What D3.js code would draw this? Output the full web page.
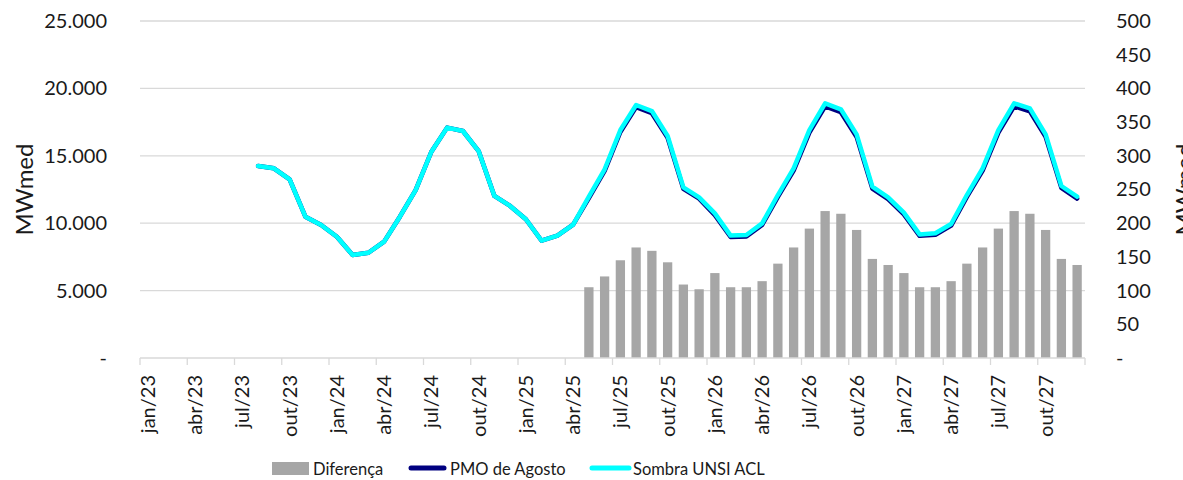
<!DOCTYPE html>
<html>
<head>
<meta charset="utf-8">
<script src="https://cdn.jsdelivr.net/npm/d3@7"></script>
<style>
  html, body { margin: 0; padding: 0; background: #fff; }
  svg { display: block; font-family: Lato, "Open Sans", sans-serif; }
</style>
</head>
<body>
<svg id="chart" width="1183" height="480"></svg>
<script>
const categories = [
  "jan/23","fev/23","mar/23","abr/23","mai/23","jun/23","jul/23","ago/23","set/23","out/23","nov/23","dez/23",
  "jan/24","fev/24","mar/24","abr/24","mai/24","jun/24","jul/24","ago/24","set/24","out/24","nov/24","dez/24",
  "jan/25","fev/25","mar/25","abr/25","mai/25","jun/25","jul/25","ago/25","set/25","out/25","nov/25","dez/25",
  "jan/26","fev/26","mar/26","abr/26","mai/26","jun/26","jul/26","ago/26","set/26","out/26","nov/26","dez/26",
  "jan/27","fev/27","mar/27","abr/27","mai/27","jun/27","jul/27","ago/27","set/27","out/27","nov/27","dez/27"
];

// Sombra UNSI ACL (MWmed, left axis)
const sombra = [
  null, null, null, null, null, null, null, 14250, 14070, 13250, 10480, 9870,
  9000, 7640, 7810, 8630, 10480, 12460, 15300, 17090, 16840, 15350, 12020, 11280,
  10290, 8700, 9080, 9890, 11970, 14000, 16910, 18770, 18320, 16470, 12660, 11920,
  10730, 9080, 9120, 9990, 12090, 14070, 16910, 18890, 18450, 16590, 12710, 11920,
  10780, 9170, 9250, 9940, 12090, 14070, 16910, 18890, 18520, 16590, 12760, 11970
];

// PMO de Agosto (MWmed, left axis)
const pmo = [
  null, null, null, null, null, null, null, 14250, 14070, 13250, 10480, 9870,
  9000, 7640, 7810, 8630, 10480, 12460, 15300, 17090, 16840, 15350, 12020, 11280,
  10290, 8700, 9080, 9890, 11865, 13880, 16765, 18610, 18160, 16330, 12550, 11820,
  10600, 8975, 9015, 9875, 11950, 13905, 16720, 18670, 18235, 16400, 12565, 11780,
  10655, 9065, 9145, 9825, 11950, 13905, 16720, 18670, 18305, 16400, 12615, 11830
];

// Diferença (MWmed, right axis)
const diferenca = [
  null, null, null, null, null, null, null, null, null, null, null, null,
  null, null, null, null, null, null, null, null, null, null, null, null,
  null, null, null, null, 105, 121, 145, 164, 159, 142, 109, 102,
  126, 105, 105, 114, 140, 164, 192, 218, 214, 190, 147, 138,
  126, 105, 105, 114, 140, 164, 192, 218, 214, 190, 147, 138
];

const leftTicks = [0, 5000, 10000, 15000, 20000, 25000];
const rightTicks = [0, 50, 100, 150, 200, 250, 300, 350, 400, 450, 500];
const xTickLabels = categories.filter((d, i) => i % 3 === 0);

const seriesNames = ["Diferença", "PMO de Agosto", "Sombra UNSI ACL"];
const colors = { bar: "#a6a6a6", pmo: "#000080", sombra: "#00ffff" };

const svg = d3.select("#chart");
const M = { left: 140, right: 1085, top: 21, bottom: 358 };

const x = d3.scaleBand().domain(categories).range([M.left, M.right]).paddingInner(0.41).paddingOuter(0.205);
const xc = d => x(d) + x.bandwidth() / 2;
const step = x.step();
const yL = d3.scaleLinear().domain([0, 25000]).range([M.bottom, M.top]);
const yR = d3.scaleLinear().domain([0, 500]).range([M.bottom, M.top]);

const fmtL = v => v === 0 ? "-" : d3.format(",")(v).replace(/,/g, ".");
const fmtR = v => v === 0 ? "-" : String(v);

// gridlines
svg.append("g").selectAll("line").data(leftTicks.filter(v => v > 0)).join("line")
  .attr("x1", M.left).attr("x2", M.right)
  .attr("y1", d => yL(d)).attr("y2", d => yL(d))
  .attr("stroke", "#d9d9d9").attr("stroke-width", 1.3);

// left axis labels
const gL = svg.append("g").attr("transform", `translate(${M.left},0)`)
  .call(d3.axisLeft(yL).tickValues(leftTicks).tickFormat(fmtL).tickSize(0).tickPadding(33));
gL.select(".domain").remove();
gL.selectAll("text").attr("font-size", 20).attr("fill", "#1a1a1a").attr("font-family", "Lato");

// right axis labels
const gR = svg.append("g").attr("transform", `translate(${M.right},0)`)
  .call(d3.axisRight(yR).tickValues(rightTicks).tickFormat(fmtR).tickSize(0).tickPadding(31));
gR.select(".domain").remove();
gR.selectAll("text").attr("font-size", 20).attr("fill", "#1a1a1a").attr("font-family", "Lato");

// bars
svg.append("g").selectAll("rect")
  .data(categories.map((c, i) => ({ c, v: diferenca[i] })).filter(d => d.v != null))
  .join("rect")
  .attr("x", d => x(d.c)).attr("width", x.bandwidth())
  .attr("y", d => yR(d.v)).attr("height", d => yR(0) - yR(d.v))
  .attr("fill", colors.bar);

// bottom axis
svg.append("line").attr("x1", M.left).attr("x2", M.right).attr("y1", M.bottom).attr("y2", M.bottom)
  .attr("stroke", "#d9d9d9").attr("stroke-width", 1.3);
const tickIdx = d3.range(0, categories.length + 1, 3);
const tickX = i => i === categories.length ? M.right : x(categories[i]) - step * x.paddingInner() / 2;
svg.append("g").selectAll("line").data(tickIdx).join("line")
  .attr("x1", tickX).attr("x2", tickX)
  .attr("y1", M.bottom).attr("y2", M.bottom + 7)
  .attr("stroke", "#d9d9d9").attr("stroke-width", 1.3);

// x labels
svg.append("g").selectAll("text").data(xTickLabels).join("text")
  .attr("transform", d => `translate(${xc(d) + 7},${M.bottom + 17}) rotate(-90)`)
  .attr("text-anchor", "end")
  .attr("font-size", 20).attr("fill", "#1a1a1a")
  .text(d => d);

// lines
const lineGen = arr => d3.line()
  .defined(d => d.v != null)
  .x(d => xc(d.c)).y(d => yL(d.v))(categories.map((c, i) => ({ c, v: arr[i] })));

svg.append("path").attr("d", lineGen(pmo)).attr("fill", "none")
  .attr("stroke", colors.pmo).attr("stroke-width", 4.5)
  .attr("stroke-linejoin", "round").attr("stroke-linecap", "round");
svg.append("path").attr("d", lineGen(sombra)).attr("fill", "none")
  .attr("stroke", colors.sombra).attr("stroke-width", 4.5)
  .attr("stroke-linejoin", "round").attr("stroke-linecap", "round");

// axis titles
svg.append("text").attr("transform", `translate(33,${(M.top + M.bottom) / 2}) rotate(-90)`)
  .attr("text-anchor", "middle").attr("font-size", 24).attr("fill", "#1a1a1a").text("MWmed");
svg.append("text").attr("transform", `translate(1193,${(M.top + M.bottom) / 2}) rotate(-90)`)
  .attr("text-anchor", "middle").attr("font-size", 24).attr("fill", "#1a1a1a").text("MWmed");

// legend
const lg = svg.append("g");
lg.append("rect").attr("x", 272).attr("y", 462).attr("width", 37).attr("height", 13).attr("fill", colors.bar);
lg.append("text").attr("x", 313).attr("y", 475).attr("font-size", 16.5).attr("fill", "#1a1a1a").text(seriesNames[0]);
lg.append("line").attr("x1", 411).attr("x2", 444).attr("y1", 468).attr("y2", 468)
  .attr("stroke", colors.pmo).attr("stroke-width", 5).attr("stroke-linecap", "round");
lg.append("text").attr("x", 450).attr("y", 475).attr("font-size", 16.5).attr("fill", "#1a1a1a").text(seriesNames[1]);
lg.append("line").attr("x1", 592).attr("x2", 629).attr("y1", 468).attr("y2", 468)
  .attr("stroke", colors.sombra).attr("stroke-width", 5).attr("stroke-linecap", "round");
lg.append("text").attr("x", 633).attr("y", 475).attr("font-size", 16.5).attr("fill", "#1a1a1a").text(seriesNames[2]);
</script>
</body>
</html>
